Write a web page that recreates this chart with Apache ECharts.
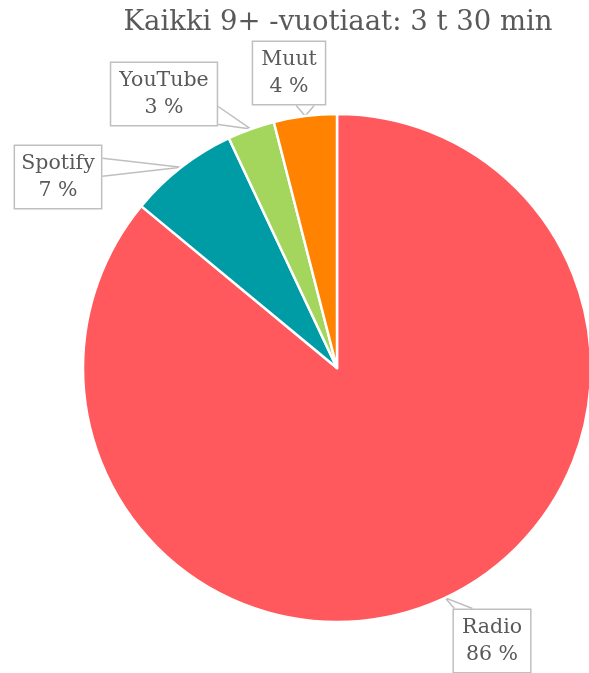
<!DOCTYPE html>
<html><head><meta charset="utf-8">
<script src="https://cdn.jsdelivr.net/npm/echarts@6/dist/echarts.min.js"></script>
<style>html,body{margin:0;padding:0;background:#fff}#c{width:589px;height:673px}</style>
</head><body><div id="c"></div>
<script>
const titleText = 'Kaikki 9+ -vuotiaat: 3 t 30 min';
const categories = ['Radio', 'Spotify', 'YouTube', 'Muut'];
const values = [86, 7, 3, 4];
const colors = ['#FF585D', '#009CA6', '#A4D65E', '#FF8200'];
// label box centres (layout, not data)
const labelPos = {Radio: [492, 641], Spotify: [58, 177], YouTube: [164, 94], Muut: [289, 73]};

const chart = echarts.init(document.getElementById('c'), null, {renderer: 'canvas'});
const FONT = '"DejaVu Serif", "Liberation Serif", serif';

function callout(a, cx, cy, w, h) {
  const L = cx - w / 2, R = cx + w / 2, T = cy - h / 2, B = cy + h / 2;
  const half = 9;
  const clamp = (v, lo, hi) => Math.min(Math.max(v, lo), hi);
  const dx = a[0] < L ? L - a[0] : (a[0] > R ? a[0] - R : 0);
  const dy = a[1] < T ? T - a[1] : (a[1] > B ? a[1] - B : 0);
  if (dx > dy) {
    const ex = a[0] < L ? L : R;
    const m = clamp(a[1], T + half + 2, B - half - 2);
    return [[ex, m - half], a, [ex, m + half]];
  } else {
    const ey = a[1] < T ? T : B;
    const m = clamp(a[0], L + half + 2, R - half - 2);
    return [[m - half, ey], a, [m + half, ey]];
  }
}

chart.setOption({
  animation: false,
  title: {
    text: titleText, left: 333, textAlign: 'center', top: 4,
    textStyle: {fontFamily: FONT, fontWeight: 'normal', fontSize: 27.5, color: '#595959'}
  },
  series: [{
    type: 'pie',
    center: [337, 368],
    radius: 254,
    startAngle: 90,
    clockwise: true,
    itemStyle: {borderColor: '#fff', borderWidth: 2.5},
    data: categories.map((c, i) => ({name: c, value: values[i], itemStyle: {color: colors[i]}})),
    label: {
      show: true, position: 'outside', overflow: 'none',
      formatter: p => p.name + '\n' + p.value + ' %',
      fontFamily: FONT, fontSize: 20.5, lineHeight: 27, color: '#595959',
      backgroundColor: '#fff', borderColor: '#BFBFBF', borderWidth: 1.5,
      padding: [4, 8, 4, 8], align: 'center'
    },
    labelLine: {show: true, length: 10, length2: 10, lineStyle: {color: '#BFBFBF', width: 1.5}},
    labelLayout: function (p) {
      const pos = labelPos[categories[p.dataIndex]];
      const w = p.labelRect.width, h = p.labelRect.height;
      const a = p.labelLinePoints[0];
      return {x: pos[0], y: pos[1], align: 'center', verticalAlign: 'middle',
              labelLinePoints: callout(a, pos[0], pos[1], w, h)};
    }
  }]
});
</script></body></html>
